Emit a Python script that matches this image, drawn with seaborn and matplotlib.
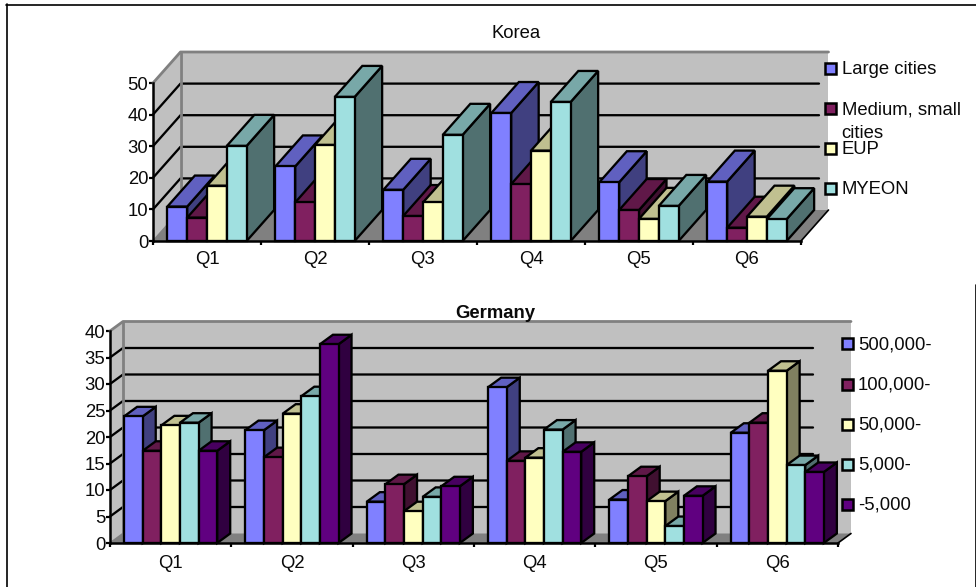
import matplotlib
matplotlib.use("Agg")
import matplotlib.pyplot as plt
from matplotlib.lines import Line2D
from matplotlib.patches import Polygon, Rectangle
from matplotlib.transforms import IdentityTransform
import numpy as np
import pandas as pd
import seaborn as sns

W, H = 976, 587

quarters = ["Q1", "Q2", "Q3", "Q4", "Q5", "Q6"]

korea_series = ["Large cities", "Medium, small cities", "EUP", "MYEON"]
korea_large = [10.9, 23.6, 16.2, 40.5, 18.6, 18.8]
korea_medium = [7.4, 12.2, 7.9, 18.0, 9.8, 4.2]
korea_eup = [17.5, 30.4, 12.2, 28.6, 7.0, 7.7]
korea_myeon = [30.1, 45.6, 33.6, 44.0, 11.1, 6.9]

germany_series = ["500,000-", "100,000-", "50,000-", "5,000-", "-5,000"]
germany_500k = [23.9, 21.3, 7.8, 29.4, 8.2, 20.8]
germany_100k = [17.4, 16.2, 11.1, 15.5, 12.6, 22.7]
germany_50k = [22.2, 24.4, 6.0, 16.1, 7.9, 32.5]
germany_5k = [22.7, 27.7, 8.7, 21.4, 3.2, 14.7]
germany_small = [17.4, 37.5, 10.7, 17.2, 8.9, 13.4]

front_colors = ["#8080FF", "#802060", "#FFFFC0", "#A0E0E0", "#600080"]
top_colors = ["#6060C0", "#601848", "#C0C090", "#78A8A8", "#480060"]
side_colors = ["#404080", "#401030", "#808060", "#507070", "#300040"]

WALL = "#C0C0C0"
FLOOR = "#808080"
INK = "#0A0A0A"
LW = 1.65
FONT = 13.3

sns.set_theme(style="white", rc={"font.family": ["Liberation Sans", "DejaVu Sans"]})
fig = plt.figure(figsize=(W / 100, H / 100), dpi=100, facecolor="white")
PIX = IdentityTransform()


def to_pix(x, y):
    """Convert top-left pixel coordinates to figure display space."""
    return (x, H - y)


def frame_line(x0, y0, x1, y1):
    fig.add_artist(Line2D([x0, x1], [H - y0, H - y1], transform=PIX, color="black", lw=1.2))


def long_form(series, columns):
    rows = [
        {"quarter": q, "series": name, "value": v}
        for name, col in zip(series, columns)
        for q, v in zip(quarters, col)
    ]
    return pd.DataFrame(rows)


def box3d(ax, series, columns, rect, ymax, ystep, depth, bar_width, grid_end, label_pad):
    left, top, right, bottom = rect
    dx, dy = depth
    ax.set_position([left / W, (H - bottom) / H, (right - left) / W, (bottom - top) / H])
    ax.patch.set_alpha(0)

    sns.barplot(
        data=long_form(series, columns), x="quarter", y="value", hue="series",
        order=quarters, hue_order=series, palette=front_colors[: len(series)],
        width=bar_width, gap=0, dodge=True, saturation=1, errorbar=None,
        edgecolor="black", linewidth=LW, legend=False, ax=ax, zorder=10,
    )
    ax.set_xlim(-0.5, 5.5)
    ax.set_ylim(0, ymax)
    fig.canvas.draw()

    def art(artist):
        artist.set_transform(PIX)
        artist.set_clip_on(False)
        ax.add_artist(artist)

    # Walls and floor of the box behind the bars
    x0, y0 = ax.transData.transform((-0.5, 0))
    x1, _ = ax.transData.transform((5.5, 0))
    _, ytop = ax.transData.transform((0, ymax))
    back = dict(lw=0, zorder=1)
    art(Polygon([(x0 + dx, y0 + dy), (x1 + dx, y0 + dy), (x1 + dx, ytop + dy), (x0 + dx, ytop + dy)], fc=WALL, **back))
    art(Polygon([(x0, y0), (x0 + dx, y0 + dy), (x0 + dx, ytop + dy), (x0, ytop)], fc=WALL, **back))
    art(Polygon([(x0, y0), (x1, y0), (x1 + dx, y0 + dy), (x0 + dx, y0 + dy)], fc=FLOOR, **back))

    # Gridlines run along the left wall and across the back wall
    ticks = np.arange(0, ymax + ystep, ystep)
    for t in ticks[1:-1]:
        _, yt = ax.transData.transform((0, t))
        art(Line2D([x0, x0 + dx, grid_end], [yt, yt + dy, yt + dy], color="black", lw=LW, zorder=2))
    art(Line2D([x0, x0 + dx, x1 + dx], [ytop, ytop + dy, ytop + dy], color=FLOOR, lw=2.0, zorder=3))
    art(Line2D([x0 + dx, x0 + dx], [y0 + dy, ytop + dy], color=FLOOR, lw=2.0, zorder=3))
    art(Line2D([x0, x0 + dx], [y0, y0 + dy], color=FLOOR, lw=1.2, zorder=3))
    art(Line2D([x1, x1 + dx], [y0, y0 + dy], color="black", lw=1.2, zorder=3))

    # Extrude each bar: side and top faces sit just under its front face
    for s, container in enumerate(ax.containers):
        for g, bar in enumerate(container):
            z = 10 + g * 10 + s
            bar.set_zorder(z + 0.6)
            bar.set_clip_on(False)
            (xa, ya), (xb, yb) = ax.transData.transform(
                [(bar.get_x(), 0), (bar.get_x() + bar.get_width(), bar.get_height())]
            )
            style = dict(ec="black", lw=LW, joinstyle="miter", zorder=z)
            art(Polygon([(xb, ya), (xb + dx, ya + dy), (xb + dx, yb + dy), (xb, yb)], fc=side_colors[s], **style))
            art(Polygon([(xa, yb), (xb, yb), (xb + dx, yb + dy), (xa + dx, yb + dy)], fc=top_colors[s], **style))

    # Axes lines, ticks and labels
    for side in ("top", "right"):
        ax.spines[side].set_visible(False)
    for side in ("left", "bottom"):
        ax.spines[side].set_color("black")
        ax.spines[side].set_linewidth(1.8)
        ax.spines[side].set_zorder(200)
    ax.set_xlabel("")
    ax.set_ylabel("")
    ax.set_yticks(ticks)
    ax.set_xticks(range(6), quarters)
    ax.set_xticks(np.arange(-0.5, 6.0), minor=True)
    ax.tick_params(axis="x", which="major", length=0, pad=label_pad, labelsize=FONT, labelcolor=INK)
    ax.tick_params(axis="x", which="minor", length=3.2, width=1.6, color="black", bottom=True)
    ax.tick_params(axis="y", length=3, width=1.6, color="black", left=True, pad=0.5, labelsize=FONT, labelcolor=INK)
    for t in ax.xaxis.get_minor_ticks() + ax.yaxis.get_major_ticks():
        t.tick1line.set_zorder(200)


def legend_column(series, x_box, x_text, box_centers, text_centers):
    for i, (name, yb, yt) in enumerate(zip(series, box_centers, text_centers)):
        px, py = to_pix(x_box, yb + 5.5)
        fig.add_artist(Rectangle((px, py), 11, 11, transform=PIX, fc=front_colors[i], ec="black", lw=1.8))
        tx, ty = to_pix(x_text, yt)
        fig.text(tx / W, ty / H, name, fontsize=FONT, color=INK, ha="left", va="center", linespacing=1.5)


ax_korea = fig.add_axes([0, 0, 1, 1])
box3d(
    ax_korea, korea_series,
    [korea_large, korea_medium, korea_eup, korea_myeon],
    (153, 83, 801, 241), 50, 10, (27.5, 31), 0.734, 819, 7.5,
)
ax_germany = fig.add_axes([0, 0, 1, 1])
box3d(
    ax_germany, germany_series,
    [germany_500k, germany_100k, germany_50k, germany_5k, germany_small],
    (110, 331, 838, 543), 40, 5, (13, 9.5), 0.767, 813, 8.5,
)

fig.text(516.5 / W, (H - 33.5) / H, "Korea", fontsize=FONT, color=INK, ha="center", va="center")
fig.text(495.5 / W, (H - 314) / H, "Germany", fontsize=FONT, fontweight="bold", color=INK,
         ha="center", va="center", zorder=300)

legend_column(["Large cities", "Medium, small\ncities", "EUP", "MYEON"], 824.5, 841.5,
              [68.5, 108.5, 148.5, 188.5], [69.5, 121.5, 149.5, 189.5])
legend_column(germany_series, 842, 858,
              [343.5, 384, 424, 464, 504], [344.5, 385, 425, 465, 505])

frame_line(6, 4.5, 976, 4.5)
frame_line(6.5, 4, 6.5, 587)
frame_line(975.5, 285, 975.5, 587)

fig.savefig("out.png", dpi=100, facecolor="white")
